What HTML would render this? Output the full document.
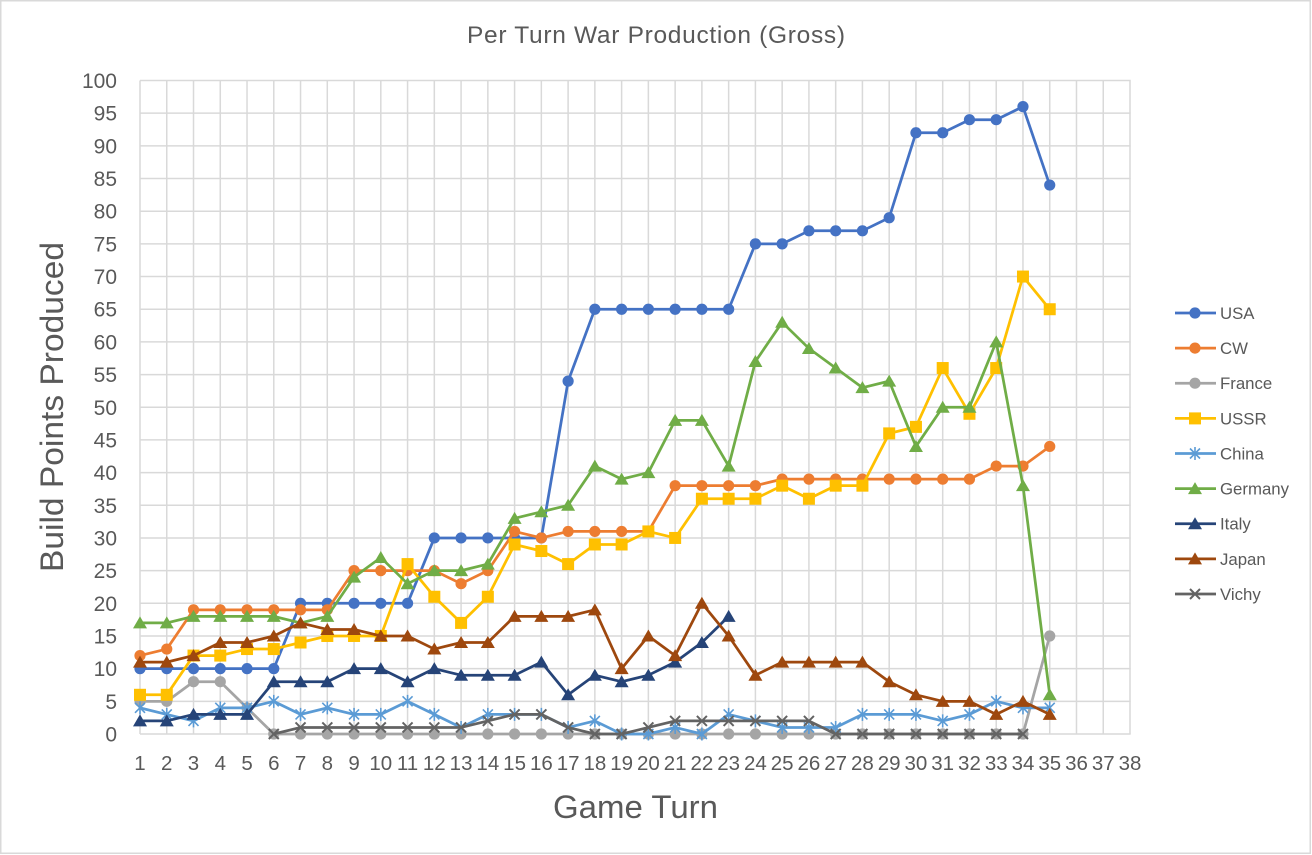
<!DOCTYPE html>
<html><head><meta charset="utf-8"><style>
html,body{margin:0;padding:0;background:#fff;}
svg{display:block;}
text{font-family:"Liberation Sans",Arial,sans-serif;fill:#595959;}
</style></head><body>
<svg width="1312" height="855" viewBox="0 0 1312 855" xmlns="http://www.w3.org/2000/svg">
<defs>
<marker id="mUSA" markerUnits="userSpaceOnUse" refX="0" refY="0" markerWidth="1" markerHeight="1" style="overflow:visible"><circle r="5.6" fill="#4472C4"/></marker>
<marker id="mCW" markerUnits="userSpaceOnUse" refX="0" refY="0" markerWidth="1" markerHeight="1" style="overflow:visible"><circle r="5.6" fill="#ED7D31"/></marker>
<marker id="mFR" markerUnits="userSpaceOnUse" refX="0" refY="0" markerWidth="1" markerHeight="1" style="overflow:visible"><circle r="5.6" fill="#A5A5A5"/></marker>
<marker id="mSU" markerUnits="userSpaceOnUse" refX="0" refY="0" markerWidth="1" markerHeight="1" style="overflow:visible"><rect x="-6" y="-6" width="12" height="12" fill="#FFC000"/></marker>
<marker id="mCH" markerUnits="userSpaceOnUse" refX="0" refY="0" markerWidth="1" markerHeight="1" style="overflow:visible"><path d="M-5,-5L5,5M-5,5L5,-5M0,-6.5L0,6.5" fill="none" stroke="#5B9BD5" stroke-width="1.6"/></marker>
<marker id="mGE" markerUnits="userSpaceOnUse" refX="0" refY="0" markerWidth="1" markerHeight="1" style="overflow:visible"><path d="M0,-6.5L7,5.5L-7,5.5Z" fill="#70AD47"/></marker>
<marker id="mIT" markerUnits="userSpaceOnUse" refX="0" refY="0" markerWidth="1" markerHeight="1" style="overflow:visible"><path d="M0,-6.5L7,5.5L-7,5.5Z" fill="#264478"/></marker>
<marker id="mJA" markerUnits="userSpaceOnUse" refX="0" refY="0" markerWidth="1" markerHeight="1" style="overflow:visible"><path d="M0,-6.5L7,5.5L-7,5.5Z" fill="#9E480E"/></marker>
<marker id="mVI" markerUnits="userSpaceOnUse" refX="0" refY="0" markerWidth="1" markerHeight="1" style="overflow:visible"><path d="M-5,-5L5,5M-5,5L5,-5" fill="none" stroke="#636363" stroke-width="2"/></marker>
</defs>

<rect x="0.75" y="0.75" width="1309.5" height="852.5" fill="#fff" stroke="#D9D9D9" stroke-width="1.5"/>

<!-- gridlines -->
<g stroke="#D9D9D9" stroke-width="1.5" fill="none">
<path d="M140,734H1130.7M140,701.33H1130.7M140,668.65H1130.7M140,635.98H1130.7M140,603.30H1130.7M140,570.63H1130.7M140,537.95H1130.7M140,505.28H1130.7M140,472.60H1130.7M140,439.93H1130.7M140,407.25H1130.7M140,374.58H1130.7M140,341.90H1130.7M140,309.23H1130.7M140,276.55H1130.7M140,243.88H1130.7M140,211.20H1130.7M140,178.53H1130.7M140,145.85H1130.7M140,113.18H1130.7M140,80.5H1130.7"/>
<path d="M140,80.5V734M166.76,80.5V734M193.51,80.5V734M220.27,80.5V734M247.03,80.5V734M273.78,80.5V734M300.54,80.5V734M327.30,80.5V734M354.05,80.5V734M380.81,80.5V734M407.57,80.5V734M434.32,80.5V734M461.08,80.5V734M487.84,80.5V734M514.59,80.5V734M541.35,80.5V734M568.11,80.5V734M594.86,80.5V734M621.62,80.5V734M648.38,80.5V734M675.14,80.5V734M701.89,80.5V734M728.65,80.5V734M755.41,80.5V734M782.16,80.5V734M808.92,80.5V734M835.68,80.5V734M862.43,80.5V734M889.19,80.5V734M915.95,80.5V734M942.70,80.5V734M969.46,80.5V734M996.22,80.5V734M1022.97,80.5V734M1049.73,80.5V734M1076.49,80.5V734M1103.24,80.5V734M1130,80.5V734"/>
</g>

<!-- title -->
<text x="656" y="43" font-size="24.5" text-anchor="middle" textLength="378" lengthAdjust="spacing">Per Turn War Production (Gross)</text>

<!-- y tick labels -->
<g font-size="21" text-anchor="end">
<text x="117" y="741.5">0</text>
<text x="117" y="708.8">5</text>
<text x="117" y="676.1">10</text>
<text x="117" y="643.5">15</text>
<text x="117" y="610.8">20</text>
<text x="117" y="578.1">25</text>
<text x="117" y="545.5">30</text>
<text x="117" y="512.8">35</text>
<text x="117" y="480.1">40</text>
<text x="117" y="447.4">45</text>
<text x="117" y="414.8">50</text>
<text x="117" y="382.1">55</text>
<text x="117" y="349.4">60</text>
<text x="117" y="316.7">65</text>
<text x="117" y="284.1">70</text>
<text x="117" y="251.4">75</text>
<text x="117" y="218.7">80</text>
<text x="117" y="186.0">85</text>
<text x="117" y="153.4">90</text>
<text x="117" y="120.7">95</text>
<text x="117" y="88.0">100</text>
</g>

<!-- x tick labels -->
<g font-size="20.5" text-anchor="middle">
<text x="140" y="770">1</text><text x="166.76" y="770">2</text><text x="193.51" y="770">3</text><text x="220.27" y="770">4</text><text x="247.03" y="770">5</text><text x="273.78" y="770">6</text><text x="300.54" y="770">7</text><text x="327.30" y="770">8</text><text x="354.05" y="770">9</text><text x="380.81" y="770">10</text><text x="407.57" y="770">11</text><text x="434.32" y="770">12</text><text x="461.08" y="770">13</text><text x="487.84" y="770">14</text><text x="514.59" y="770">15</text><text x="541.35" y="770">16</text><text x="568.11" y="770">17</text><text x="594.86" y="770">18</text><text x="621.62" y="770">19</text><text x="648.38" y="770">20</text><text x="675.14" y="770">21</text><text x="701.89" y="770">22</text><text x="728.65" y="770">23</text><text x="755.41" y="770">24</text><text x="782.16" y="770">25</text><text x="808.92" y="770">26</text><text x="835.68" y="770">27</text><text x="862.43" y="770">28</text><text x="889.19" y="770">29</text><text x="915.95" y="770">30</text><text x="942.70" y="770">31</text><text x="969.46" y="770">32</text><text x="996.22" y="770">33</text><text x="1022.97" y="770">34</text><text x="1049.73" y="770">35</text><text x="1076.49" y="770">36</text><text x="1103.24" y="770">37</text><text x="1130" y="770">38</text>
</g>

<!-- axis titles -->
<text x="635.5" y="818" font-size="32.5" text-anchor="middle" textLength="165" lengthAdjust="spacingAndGlyphs">Game Turn</text>
<text transform="translate(63,407) rotate(-90)" x="0" y="0" font-size="32.5" text-anchor="middle" textLength="330" lengthAdjust="spacingAndGlyphs">Build Points Produced</text>

<!-- series -->
<g fill="none" stroke-width="2.75" stroke-linejoin="round" stroke-linecap="round">
<polyline stroke="#4472C4" marker-start="url(#mUSA)" marker-mid="url(#mUSA)" marker-end="url(#mUSA)" points="140,668.65 166.76,668.65 193.51,668.65 220.27,668.65 247.03,668.65 273.78,668.65 300.54,603.30 327.30,603.30 354.05,603.30 380.81,603.30 407.57,603.30 434.32,537.95 461.08,537.95 487.84,537.95 514.59,537.95 541.35,537.95 568.11,381.11 594.86,309.23 621.62,309.23 648.38,309.23 675.14,309.23 701.89,309.23 728.65,309.23 755.41,243.88 782.16,243.88 808.92,230.81 835.68,230.81 862.43,230.81 889.19,217.74 915.95,132.78 942.70,132.78 969.46,119.71 996.22,119.71 1022.97,106.64 1049.73,185.06"/>

<polyline stroke="#ED7D31" marker-start="url(#mCW)" marker-mid="url(#mCW)" marker-end="url(#mCW)" points="140,655.58 166.76,649.05 193.51,609.84 220.27,609.84 247.03,609.84 273.78,609.84 300.54,609.84 327.30,609.84 354.05,570.63 380.81,570.63 407.57,570.63 434.32,570.63 461.08,583.70 487.84,570.63 514.59,531.42 541.35,537.95 568.11,531.42 594.86,531.42 621.62,531.42 648.38,531.42 675.14,485.67 701.89,485.67 728.65,485.67 755.41,485.67 782.16,479.14 808.92,479.14 835.68,479.14 862.43,479.14 889.19,479.14 915.95,479.14 942.70,479.14 969.46,479.14 996.22,466.07 1022.97,466.07 1049.73,446.46"/>

<polyline stroke="#A5A5A5" marker-start="url(#mFR)" marker-mid="url(#mFR)" marker-end="url(#mFR)" points="140,701.33 166.76,701.33 193.51,681.72 220.27,681.72 247.03,707.86 273.78,734 300.54,734 327.30,734 354.05,734 380.81,734 407.57,734 434.32,734 461.08,734 487.84,734 514.59,734 541.35,734 568.11,734 594.86,734 621.62,734 648.38,734 675.14,734 701.89,734 728.65,734 755.41,734 782.16,734 808.92,734 835.68,734 862.43,734 889.19,734 915.95,734 942.70,734 969.46,734 996.22,734 1022.97,734 1049.73,635.98"/>

<polyline stroke="#FFC000" marker-start="url(#mSU)" marker-mid="url(#mSU)" marker-end="url(#mSU)" points="140,694.79 166.76,694.79 193.51,655.58 220.27,655.58 247.03,649.05 273.78,649.05 300.54,642.51 327.30,635.98 354.05,635.98 380.81,635.98 407.57,564.09 434.32,596.77 461.08,622.91 487.84,596.77 514.59,544.49 541.35,551.02 568.11,564.09 594.86,544.49 621.62,544.49 648.38,531.42 675.14,537.95 701.89,498.74 728.65,498.74 755.41,498.74 782.16,485.67 808.92,498.74 835.68,485.67 862.43,485.67 889.19,433.39 915.95,426.86 942.70,368.04 969.46,413.79 996.22,368.04 1022.97,276.55 1049.73,309.23"/>

<polyline stroke="#5B9BD5" marker-start="url(#mCH)" marker-mid="url(#mCH)" marker-end="url(#mCH)" points="140,707.86 166.76,714.40 193.51,720.93 220.27,707.86 247.03,707.86 273.78,701.33 300.54,714.40 327.30,707.86 354.05,714.40 380.81,714.40 407.57,701.33 434.32,714.40 461.08,727.47 487.84,714.40 514.59,714.40 541.35,714.40 568.11,727.47 594.86,720.93 621.62,734 648.38,734 675.14,727.47 701.89,734 728.65,714.40 755.41,720.93 782.16,727.47 808.92,727.47 835.68,727.47 862.43,714.40 889.19,714.40 915.95,714.40 942.70,720.93 969.46,714.40 996.22,701.33 1022.97,707.86 1049.73,707.86"/>

<polyline stroke="#70AD47" marker-start="url(#mGE)" marker-mid="url(#mGE)" marker-end="url(#mGE)" points="140,622.91 166.76,622.91 193.51,616.37 220.27,616.37 247.03,616.37 273.78,616.37 300.54,622.91 327.30,616.37 354.05,577.16 380.81,557.56 407.57,583.70 434.32,570.63 461.08,570.63 487.84,564.09 514.59,518.35 541.35,511.81 568.11,505.28 594.86,466.07 621.62,479.14 648.38,472.60 675.14,420.32 701.89,420.32 728.65,466.07 755.41,361.51 782.16,322.30 808.92,348.44 835.68,368.04 862.43,387.65 889.19,381.11 915.95,446.46 942.70,407.25 969.46,407.25 996.22,341.90 1022.97,485.67 1049.73,694.79"/>

<polyline stroke="#264478" marker-start="url(#mIT)" marker-mid="url(#mIT)" marker-end="url(#mIT)" points="140,720.93 166.76,720.93 193.51,714.40 220.27,714.40 247.03,714.40 273.78,681.72 300.54,681.72 327.30,681.72 354.05,668.65 380.81,668.65 407.57,681.72 434.32,668.65 461.08,675.19 487.84,675.19 514.59,675.19 541.35,662.12 568.11,694.79 594.86,675.19 621.62,681.72 648.38,675.19 675.14,662.12 701.89,642.51 728.65,616.37"/>

<polyline stroke="#9E480E" marker-start="url(#mJA)" marker-mid="url(#mJA)" marker-end="url(#mJA)" points="140,662.12 166.76,662.12 193.51,655.58 220.27,642.51 247.03,642.51 273.78,635.98 300.54,622.91 327.30,629.44 354.05,629.44 380.81,635.98 407.57,635.98 434.32,649.05 461.08,642.51 487.84,642.51 514.59,616.37 541.35,616.37 568.11,616.37 594.86,609.84 621.62,668.65 648.38,635.98 675.14,655.58 701.89,603.30 728.65,635.98 755.41,675.19 782.16,662.12 808.92,662.12 835.68,662.12 862.43,662.12 889.19,681.72 915.95,694.79 942.70,701.33 969.46,701.33 996.22,714.40 1022.97,701.33 1049.73,714.40"/>

<polyline stroke="#636363" marker-start="url(#mVI)" marker-mid="url(#mVI)" marker-end="url(#mVI)" points="273.78,734 300.54,727.47 327.30,727.47 354.05,727.47 380.81,727.47 407.57,727.47 434.32,727.47 461.08,727.47 487.84,720.93 514.59,714.40 541.35,714.40 568.11,727.47 594.86,734 621.62,734 648.38,727.47 675.14,720.93 701.89,720.93 728.65,720.93 755.41,720.93 782.16,720.93 808.92,720.93 835.68,734 862.43,734 889.19,734 915.95,734 942.70,734 969.46,734 996.22,734 1022.97,734"/>
</g>

<!-- legend -->
<g fill="none" stroke-width="2.75">
<polyline stroke="#4472C4" points="1175,313 1195,313 1216,313" marker-mid="url(#mUSA)"/>
<polyline stroke="#ED7D31" points="1175,348.1 1195,348.1 1216,348.1" marker-mid="url(#mCW)"/>
<polyline stroke="#A5A5A5" points="1175,383.2 1195,383.2 1216,383.2" marker-mid="url(#mFR)"/>
<polyline stroke="#FFC000" points="1175,418.4 1195,418.4 1216,418.4" marker-mid="url(#mSU)"/>
<polyline stroke="#5B9BD5" points="1175,453.5 1195,453.5 1216,453.5" marker-mid="url(#mCH)"/>
<polyline stroke="#70AD47" points="1175,488.6 1195,488.6 1216,488.6" marker-mid="url(#mGE)"/>
<polyline stroke="#264478" points="1175,523.7 1195,523.7 1216,523.7" marker-mid="url(#mIT)"/>
<polyline stroke="#9E480E" points="1175,558.9 1195,558.9 1216,558.9" marker-mid="url(#mJA)"/>
<polyline stroke="#636363" points="1175,594 1195,594 1216,594" marker-mid="url(#mVI)"/>
</g>
<g font-size="16.8">
<text x="1220" y="319">USA</text>
<text x="1220" y="354.1">CW</text>
<text x="1220" y="389.2">France</text>
<text x="1220" y="424.4">USSR</text>
<text x="1220" y="459.5">China</text>
<text x="1220" y="494.6">Germany</text>
<text x="1220" y="529.7">Italy</text>
<text x="1220" y="564.9">Japan</text>
<text x="1220" y="600">Vichy</text>
</g>
</svg>
</body></html>
